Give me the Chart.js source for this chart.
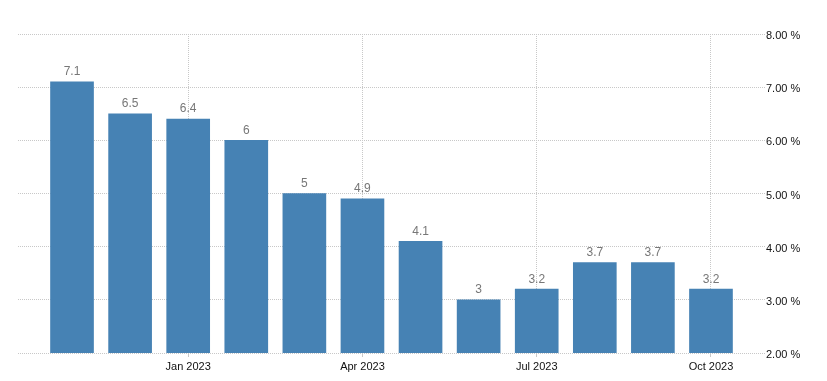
<!DOCTYPE html>
<html>
<head>
<meta charset="utf-8">
<script src="https://cdn.jsdelivr.net/npm/chart.js@4"></script>
<style>
  html, body { margin: 0; padding: 0; background: #fff; }
  #wrap { width: 827px; height: 381px; position: relative; }
</style>
</head>
<body>
<div id="wrap"><canvas id="chart"></canvas></div>
<script>
// ============ DATA ============
const MESES = ['Nov 2022','Dec 2022','Jan 2023','Feb 2023','Mar 2023','Apr 2023',
               'May 2023','Jun 2023','Jul 2023','Aug 2023','Sep 2023','Oct 2023'];
const VALORES = [7.1, 6.5, 6.4, 6, 5, 4.9, 4.1, 3, 3.2, 3.7, 3.7, 3.2];
const TICKS_X = [2, 5, 8, 11];            // indices with a visible month label
const TICKS_Y = [2, 3, 4, 5, 6, 7, 8];

const GRID = '#c8c8c8';
const FUENTE = '"Liberation Sans", Arial, sans-serif';

// etiquetas encima de cada barra
const etiquetasBarras = {
    id: 'etiquetasBarras',
    afterDatasetsDraw(chart) {
        const ctx = chart.ctx;
        const meta = chart.getDatasetMeta(0);
        ctx.save();
        ctx.font = '12px ' + FUENTE;
        ctx.fillStyle = '#777';
        ctx.textAlign = 'center';
        ctx.textBaseline = 'bottom';
        meta.data.forEach((bar, i) => {
            ctx.fillText(String(VALORES[i]), bar.x, bar.y - 4);
        });
        ctx.restore();
    }
};

new Chart(document.getElementById('chart'), {
    type: 'bar',
    data: {
        datasets: [{
            data: VALORES.map((v, i) => ({ x: i, y: v })),
            backgroundColor: '#4682b4',
            borderWidth: 0,
            barThickness: 43
        }]
    },
    options: {
        responsive: true,
        maintainAspectRatio: false,
        animation: false,
        layout: { padding: { left: 18, top: 34, right: 0, bottom: 0 } },
        plugins: { legend: { display: false }, tooltip: { enabled: false } },
        scales: {
            x: {
                type: 'linear',
                offset: false,
                min: -0.93,
                max: 11.93,
                afterBuildTicks: s => { s.ticks = TICKS_X.map(v => ({ value: v })); },
                afterFit: s => { s.height = 28; },
                border: { display: false, dash: [1, 1] },
                grid: { color: GRID, offset: false, tickLength: 4, tickColor: GRID },
                ticks: {
                    autoSkip: false,
                    maxRotation: 0,
                    padding: 3,
                    color: '#111',
                    font: { family: FUENTE, size: 11 },
                    callback: v => MESES[v]
                }
            },
            y: {
                position: 'right',
                min: 2,
                max: 8,
                afterBuildTicks: s => { s.ticks = TICKS_Y.map(v => ({ value: v })); },
                afterFit: s => { s.width = 62; },
                border: { display: false, dash: [1, 1] },
                grid: { color: GRID, drawTicks: false },
                ticks: {
                    padding: 1,
                    labelOffset: 2,
                    color: '#111',
                    font: { family: FUENTE, size: 11 },
                    callback: v => v.toFixed(2) + ' %'
                }
            }
        }
    },
    plugins: [etiquetasBarras]
});
</script>
</body>
</html>
